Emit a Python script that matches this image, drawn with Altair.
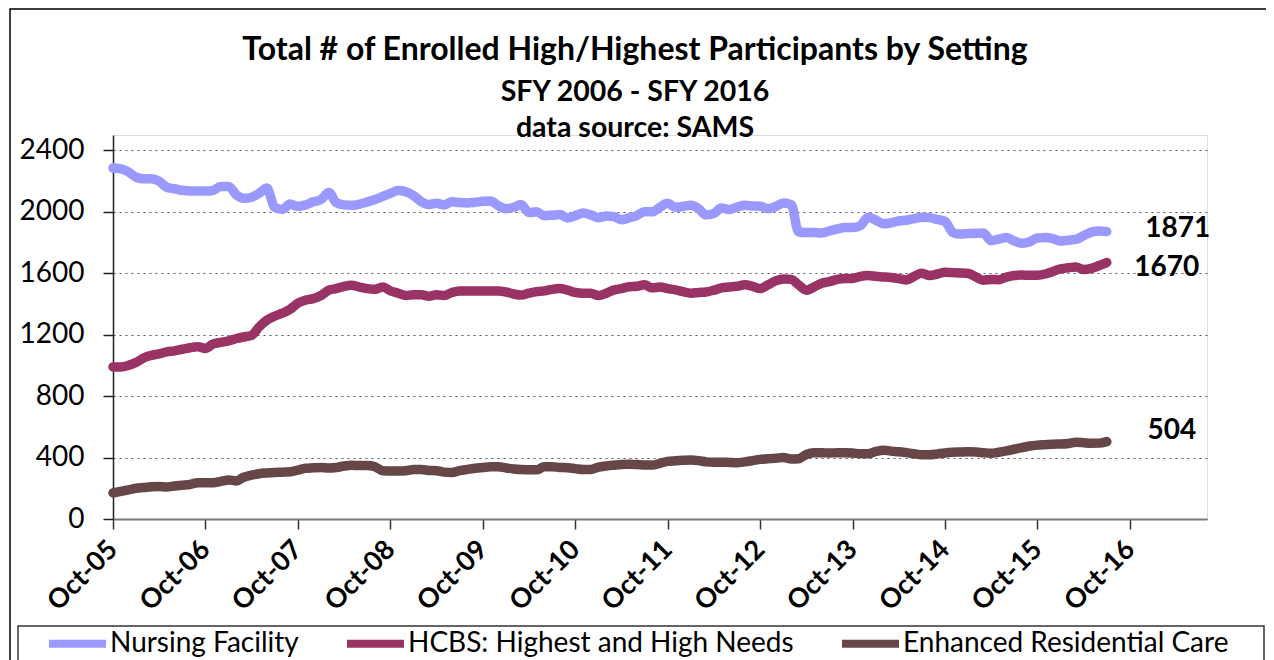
import altair as alt
import pandas as pd

# ---------------- data ----------------
months = pd.date_range("2005-10-01", periods=130, freq="MS")

nursing = [
    2285, 2280, 2260, 2225, 2215, 2215, 2200, 2160, 2150, 2140,
    2135, 2135, 2135, 2140, 2165, 2165, 2110, 2088, 2095, 2120,
    2155, 2030, 2015, 2050, 2035, 2045, 2065, 2080, 2125, 2060,
    2045, 2042, 2050, 2064, 2080, 2100, 2120, 2138, 2130, 2105,
    2065, 2048, 2055, 2045, 2065, 2060, 2058, 2062, 2068, 2070,
    2040, 2020, 2030, 2048, 1995, 2000, 1975, 1978, 1982, 1960,
    1975, 1992, 1980, 1962, 1972, 1970, 1948, 1960, 1975, 2000,
    2000, 2030, 2055, 2030, 2035, 2042, 2020, 1980, 1990, 2025,
    2015, 2030, 2042, 2038, 2036, 2020, 2035, 2057, 2045, 1870,
    1865, 1865, 1862, 1875, 1888, 1897, 1897, 1910, 1965, 1945,
    1922, 1928, 1940, 1945, 1955, 1965, 1962, 1950, 1938, 1865,
    1855, 1858, 1860, 1862, 1812, 1822, 1832, 1810, 1795, 1805,
    1830, 1832, 1825, 1810, 1815, 1820, 1845, 1868, 1875, 1871,
]

hcbs = [
    990, 990, 1000, 1020, 1050, 1065, 1075, 1088, 1095, 1105,
    1115, 1122, 1110, 1140, 1150, 1160, 1175, 1185, 1195, 1250,
    1295, 1320, 1340, 1365, 1405, 1425, 1435, 1455, 1490, 1500,
    1515, 1522, 1510, 1500, 1495, 1510, 1485, 1470, 1455, 1460,
    1460, 1450, 1460, 1455, 1475, 1485, 1485, 1485, 1485, 1485,
    1485, 1478, 1465, 1458, 1470, 1480, 1485, 1495, 1500, 1490,
    1475, 1470, 1470, 1455, 1470, 1490, 1500, 1512, 1515, 1525,
    1505, 1510, 1500, 1492, 1480, 1470, 1475, 1478, 1490, 1505,
    1510, 1515, 1525, 1515, 1500, 1525, 1550, 1562, 1560, 1525,
    1490, 1510, 1535, 1545, 1560, 1566, 1566, 1580, 1585, 1580,
    1576, 1572, 1565, 1556, 1580, 1600, 1585, 1595, 1606, 1604,
    1602, 1598, 1575, 1555, 1560, 1558, 1575, 1585, 1588, 1587,
    1587, 1595, 1612, 1628, 1636, 1640, 1625, 1632, 1650, 1670,
]

erc = [
    170, 180, 190, 200, 205, 210, 212, 208, 215, 220,
    225, 236, 236, 236, 245, 254, 248, 272, 285, 295,
    300, 303, 305, 308, 318, 330, 333, 336, 332, 335,
    345, 350, 348, 348, 340, 314, 313, 312, 314, 322,
    322, 316, 314, 305, 302, 315, 323, 330, 335, 340,
    340, 332, 326, 322, 320, 320, 340, 340, 336, 334,
    328, 322, 322, 338, 345, 350, 355, 356, 355, 352,
    351, 362, 375, 379, 382, 384, 380, 372, 369, 370,
    368, 366, 372, 380, 388, 392, 396, 401, 390, 392,
    420, 431, 431, 430, 431, 431, 429, 425, 425, 440,
    448, 442, 438, 432, 425, 418, 418, 424, 430, 434,
    436, 438, 436, 432, 428, 435, 444, 454, 465, 475,
    481, 484, 487, 488, 492, 500, 497, 493, 494, 504,
]

series_names = ["Nursing Facility", "HCBS: Highest and High Needs", "Enhanced Residential Care"]
series_colors = ["#9999FF", "#993366", "#664646"]
x_tick_years = list(range(2005, 2017))
y_ticks = list(range(0, 2401, 200))
title_lines = [
    "Total # of Enrolled High/Highest Participants by Setting",
    "SFY 2006 - SFY 2016",
    "data source: SAMS",
]

# ---------------- tables ----------------
rows = []
for name, vals in zip(series_names, [nursing, hcbs, erc]):
    for d, v in zip(months, vals):
        rows.append({"date": d, "series": name, "value": v})
df = pd.DataFrame(rows)

last = pd.DataFrame({
    "date": [months[-1]] * 3,
    "series": series_names,
    "value": [nursing[-1], hcbs[-1], erc[-1]],
})

W, H = 1094, 384
FONT = "Lato"

x_enc = alt.X(
    "date:T",
    scale=alt.Scale(domain=[alt.DateTime(year=2005, month=10, date=1),
                            alt.DateTime(year=2017, month=8, date=1)]),
    axis=alt.Axis(
        values=[alt.DateTime(year=y, month=10, date=1) for y in x_tick_years],
        format="%b-%y", labelAngle=-45, labelAlign="right", labelBaseline="middle",
        labelFontSize=27, labelFontWeight="bold", labelFont=FONT, labelColor="black",
        labelFlush=False, labelOverlap=False, labelPadding=16,
        tickSize=10, tickColor="#333333", tickWidth=1.5,
        domainColor="#7a7a7a", domainWidth=2, grid=False, title=None,
    ),
)
y_enc = alt.Y(
    "value:Q",
    scale=alt.Scale(domain=[0, 2500], nice=False),
    axis=alt.Axis(
        values=y_ticks, format="d", labelFontSize=28, labelFont=FONT, labelColor="black",
        labelPadding=19, tickSize=10, tickColor="#222222", tickWidth=1.5,
        domainColor="#222222", domainWidth=1.5,
        grid=True, gridDash=[2, 4], gridColor="#555555", gridWidth=1, title=None,
    ),
)

lines = alt.Chart(df).mark_line(
    strokeWidth=9.5, strokeCap="round", strokeJoin="round", interpolate="monotone"
).encode(
    x=x_enc,
    y=y_enc,
    color=alt.Color(
        "series:N",
        scale=alt.Scale(domain=series_names, range=series_colors),
        sort=series_names,
        legend=alt.Legend(
            orient="none", legendX=-68, legendY=476, direction="horizontal",
            title=None, symbolType="stroke", symbolSize=3249, symbolStrokeWidth=8,
            labelFontSize=28, labelFont=FONT, labelColor="black", labelOffset=0,
            columnPadding=32, padding=0, labelLimit=0,
        ),
    ),
    detail="series:N",
)

label_style = dict(fontSize=28, fontWeight="bold", font=FONT, color="black", align="center", baseline="middle")
lab1 = alt.Chart(last[last.series == series_names[0]]).mark_text(dx=71, dy=-3, **label_style).encode(
    x="date:T", y="value:Q", text="value:Q")
lab2 = alt.Chart(last[last.series == series_names[1]]).mark_text(dx=60, dy=6, **label_style).encode(
    x="date:T", y="value:Q", text="value:Q")
lab3 = alt.Chart(last[last.series == series_names[2]]).mark_text(dx=65, dy=-11, **label_style).encode(
    x="date:T", y="value:Q", text="value:Q")

# title lines as text marks (three centred bold lines above the plot)
title_df = pd.DataFrame({"line": title_lines})
t1 = alt.Chart(title_df.iloc[[0]]).mark_text(
    font=FONT, fontSize=32, fontWeight="bold", color="black", align="center", baseline="middle"
).encode(text="line:N", x=alt.value(522), y=alt.value(-85))
t2 = alt.Chart(title_df.iloc[[1]]).mark_text(
    font=FONT, fontSize=28.5, fontWeight="bold", color="black", align="center", baseline="middle"
).encode(text="line:N", x=alt.value(522), y=alt.value(-43))
t3 = alt.Chart(title_df.iloc[[2]]).mark_text(
    font=FONT, fontSize=28.5, fontWeight="bold", color="black", align="center", baseline="middle"
).encode(text="line:N", x=alt.value(522), y=alt.value(-7))

one = pd.DataFrame({"a": [0]})
outer_frame = alt.Chart(one).mark_rect(fill=None, stroke="black", strokeWidth=1.5).encode(
    x=alt.value(-103), x2=alt.value(1250), y=alt.value(-126), y2=alt.value(700))
legend_box = alt.Chart(one).mark_rect(fill=None, stroke="#333333", strokeWidth=1.5).encode(
    x=alt.value(-95), x2=alt.value(1151), y=alt.value(491), y2=alt.value(600))

chart = alt.layer(outer_frame, legend_box, lines, lab1, lab2, lab3, t1, t2, t3).properties(
    width=W, height=H,
    autosize=alt.AutoSizeParams(type="none"),
    padding={"left": 105, "top": 127, "right": 59, "bottom": 141},
).configure_view(stroke="#8a8a8a", strokeWidth=2).configure(background="white")

chart.save("out.html", embed_options={"renderer": "svg", "actions": False})
